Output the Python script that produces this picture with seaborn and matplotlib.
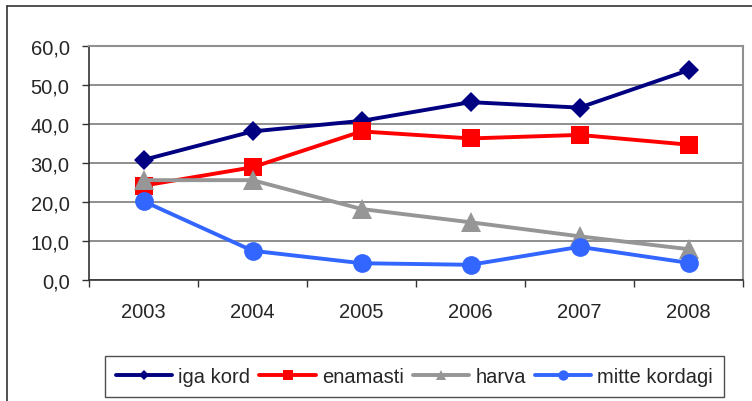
import matplotlib
matplotlib.use("Agg")
import matplotlib.pyplot as plt
from matplotlib.lines import Line2D
from matplotlib.ticker import FixedLocator, FuncFormatter
import seaborn as sns
import pandas as pd

years = ["2003", "2004", "2005", "2006", "2007", "2008"]
iga_kord = [30.8, 38.1, 40.8, 45.6, 44.2, 53.8]
enamasti = [24.2, 28.9, 38.1, 36.3, 37.2, 34.7]
harva = [25.6, 25.6, 18.2, 14.8, 11.2, 7.9]
mitte_kordagi = [20.2, 7.5, 4.3, 3.9, 8.5, 4.4]
series_names = ["iga kord", "enamasti", "harva", "mitte kordagi"]
yticks = [0, 10, 20, 30, 40, 50, 60]

colors = {"iga kord": "#000080", "enamasti": "#FF0000",
          "harva": "#969696", "mitte kordagi": "#3366FF"}
markers = {"iga kord": "D", "enamasti": "s", "harva": "^", "mitte kordagi": "o"}
msizes = {"iga kord": 10, "enamasti": 13.5, "harva": 14, "mitte kordagi": 13.5}

rows = []
for name, vals in zip(series_names, [iga_kord, enamasti, harva, mitte_kordagi]):
    for i, v in enumerate(vals):
        rows.append({"pos": i, "year": years[i], "series": name, "value": v})
df = pd.DataFrame(rows)

sns.set_style("white")
plt.rcParams["font.family"] = ["Liberation Sans", "DejaVu Sans"]

fig = plt.figure(figsize=(7.52, 4.02), dpi=100)
ax = fig.add_axes([89 / 752, 1 - 281 / 402, (743 - 89) / 752, (281 - 47) / 402])

for name in series_names:
    sub = df[df["series"] == name]
    sns.lineplot(data=sub, x="pos", y="value", ax=ax, color=colors[name],
                 marker=markers[name], markersize=msizes[name],
                 markeredgewidth=0, linewidth=2.8, label=name, zorder=3)

ax.set_xlim(-0.5, 5.5)
ax.set_ylim(0, 60)
ax.set_xlabel("")
ax.set_ylabel("")

ax.set_yticks(yticks)
ax.yaxis.set_major_formatter(FuncFormatter(lambda v, p: f"{v:.1f}".replace(".", ",")))
ax.xaxis.set_major_locator(FixedLocator([i - 0.5 for i in range(len(years) + 1)]))
ax.xaxis.set_major_formatter(FuncFormatter(lambda v, p: ""))
ax.xaxis.set_minor_locator(FixedLocator(list(range(len(years)))))
ax.set_xticklabels(years, minor=True)

ax.tick_params(axis="x", which="major", direction="out", length=5, width=1,
               color="#333333", bottom=True)
ax.tick_params(axis="x", which="minor", length=0, pad=16, labelsize=14.5,
               bottom=True, labelbottom=True)
ax.tick_params(axis="y", which="major", direction="out", length=5, width=1,
               color="#333333", left=True, pad=9, labelsize=14.5)

ax.grid(axis="y", color="#707070", linewidth=1.1, zorder=0)
ax.set_axisbelow(True)
for side in ["left", "bottom"]:
    ax.spines[side].set_color("#333333")
    ax.spines[side].set_linewidth(1.2)
for side in ["top", "right"]:
    ax.spines[side].set_color("#909090")
    ax.spines[side].set_linewidth(1.5)

if ax.legend_:
    ax.legend_.remove()
handles, labels = ax.get_legend_handles_labels()
leg = fig.legend(handles, labels, loc="center",
                 bbox_to_anchor=((102 + 727) / 2 / 752, 1 - (357 + 398) / 2 / 402),
                 ncol=4, frameon=True, fancybox=False, fontsize=14.5,
                 handlelength=2.8, handletextpad=0.3, columnspacing=0.45,
                 markerscale=0.55, borderpad=0.55, borderaxespad=0)
leg.get_frame().set_edgecolor("#222222")
leg.get_frame().set_linewidth(1.0)

fig.add_artist(Line2D([7 / 752, 7 / 752], [0, 1 - 6.5 / 402], transform=fig.transFigure,
                      color="#333333", linewidth=1.2))
fig.add_artist(Line2D([7 / 752, 1], [1 - 6.5 / 402, 1 - 6.5 / 402], transform=fig.transFigure,
                      color="#333333", linewidth=1.2))

fig.savefig("out.png", dpi=100)
